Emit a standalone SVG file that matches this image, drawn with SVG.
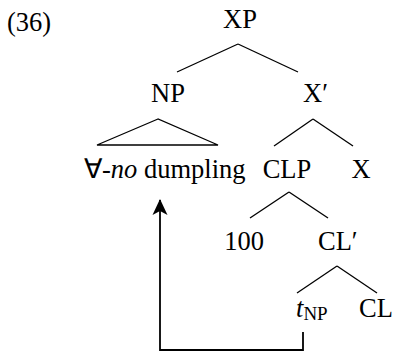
<svg xmlns="http://www.w3.org/2000/svg" width="395" height="353" viewBox="0 0 395 353">
  <style>
    text { font-family: "Liberation Serif", "Times New Roman", serif; font-size: 26.5px; fill: #000; }
    .c { text-anchor: middle; }
    .edge { stroke: #000; stroke-width: 1.3; fill: none; }
    .move { stroke: #000; stroke-width: 1.8; fill: none; }
  </style>
  <defs>
    <!-- concave arrowhead for the movement path -->
    <marker id="head" viewBox="0 0 16 16" refX="15" refY="8" markerWidth="16" markerHeight="16" markerUnits="userSpaceOnUse" orient="auto">
      <path d="M0,0.5 L16,8 L0,15.5 L4,8 Z" fill="#000"/>
    </marker>
  </defs>

  <text id="label" x="7" y="31">(36)</text>

  <g id="connectors">
    <line class="edge" x1="238" y1="44" x2="177" y2="72"/>
    <line class="edge" x1="238" y1="44" x2="298" y2="72"/>
    <polygon class="edge" points="158,119 97,145 218,145"/>
    <line class="edge" x1="313" y1="119" x2="274" y2="146"/>
    <line class="edge" x1="313" y1="119" x2="353" y2="146"/>
    <line class="edge" x1="289" y1="192" x2="250" y2="218"/>
    <line class="edge" x1="289" y1="192" x2="328" y2="218"/>
    <line class="edge" x1="337" y1="266" x2="297" y2="293"/>
    <line class="edge" x1="337" y1="266" x2="377" y2="293"/>
    <polyline class="move" points="303,332 303,350 160,350 160,200" marker-end="url(#head)"/>
  </g>

  <g id="XP"><text class="c" x="240" y="28">XP</text></g>
  <g id="NP"><text class="c" x="168" y="102">NP</text></g>
  <g id="Xbar"><text x="303" y="102">X′</text></g>
  <g id="NP-content"><text x="84" y="178">∀-<tspan font-style="italic">no</tspan><tspan x="144">dumpling</tspan></text></g>
  <g id="CLP"><text class="c" x="287" y="178">CLP</text></g>
  <g id="X"><text class="c" x="361" y="178">X</text></g>
  <g id="num"><text class="c" x="244" y="250">100</text></g>
  <g id="CLbar"><text x="318" y="250">CL′</text></g>
  <g id="trace"><text x="296" y="317"><tspan font-style="italic">t</tspan><tspan font-size="19" dy="3">NP</tspan></text></g>
  <g id="CL"><text class="c" x="376" y="317">CL</text></g>
</svg>
